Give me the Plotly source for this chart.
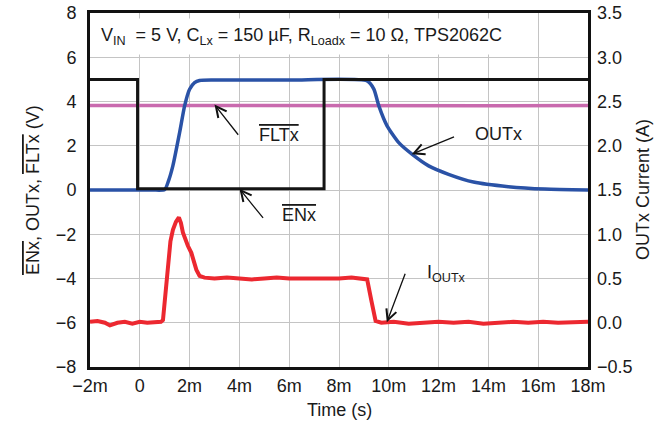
import plotly.graph_objects as go

# ---- data (time in ms) ----
en_t = [-2.0, -0.09, -0.09, 7.4, 7.4, 18.0]
en_v = [5.0, 5.0, 0.06, 0.06, 5.0, 5.0]

flt_t = [-2.0, 2.0, 6.0, 10.0, 14.0, 18.0]
flt_v = [3.82, 3.81, 3.83, 3.82, 3.81, 3.82]

out_t = [-2.0, 0.5, 1.0, 1.15, 1.33, 1.6, 1.8, 2.0, 2.2, 2.4, 3.0, 6.0, 9.13,
         9.4, 9.6, 9.93, 10.4, 10.93, 11.6, 12.4, 13.4, 14.8, 16.27, 18.0]
out_v = [0.0, 0.0, 0.02, 0.4, 1.1, 2.6, 3.8, 4.55, 4.85, 4.95, 4.97, 4.97, 4.93,
         4.56, 3.8, 2.9, 2.14, 1.62, 1.09, 0.71, 0.36, 0.15, 0.04, 0.0]

iout_t = [-2.0, -1.7, -1.4, -1.2, -0.9, -0.6, -0.3, 0.0, 0.3, 0.6, 0.85, 0.93,
          1.03, 1.13, 1.23, 1.33, 1.45, 1.57, 1.65, 1.73, 1.83, 1.93, 2.07,
          2.17, 2.27, 2.4, 2.6, 3.0, 3.5, 4.0, 4.5, 5.0, 5.5, 6.0, 6.5, 7.0,
          7.5, 8.0, 8.5, 9.0, 9.13, 9.3, 9.47, 9.7, 10.2, 10.8, 11.4, 12.0,
          12.6, 13.2, 13.8, 14.4, 15.0, 15.6, 16.2, 16.8, 17.4, 18.0]
iout_a = [0.01, 0.02, 0.0, -0.03, 0.0, 0.01, -0.01, 0.01, 0.0, 0.01, 0.01, 0.03,
          0.35, 0.72, 0.92, 1.05, 1.14, 1.19, 1.13, 1.02, 0.93, 0.87, 0.79,
          0.70, 0.60, 0.53, 0.51, 0.50, 0.51, 0.50, 0.49, 0.50, 0.51, 0.50, 0.50,
          0.49, 0.50, 0.50, 0.51, 0.50, 0.49, 0.25, 0.02, 0.0, 0.01, -0.01, 0.0,
          0.01, 0.0, 0.01, -0.01, 0.0, 0.01, 0.0, 0.01, 0.0, 0.01, 0.01]

x_ticks = [-2, 0, 2, 4, 6, 8, 10, 12, 14, 16, 18]
x_text = ["\u22122m", "0", "2m", "4m", "6m", "8m", "10m", "12m", "14m", "16m", "18m"]
y_ticks = [-8, -6, -4, -2, 0, 2, 4, 6, 8]
y_text = ["\u22128", "\u22126", "\u22124", "\u22122", "0", "2", "4", "6", "8"]
y2_ticks = [-0.5, 0.0, 0.5, 1.0, 1.5, 2.0, 2.5, 3.0, 3.5]
y2_text = ["\u22120.5", "0.0", "0.5", "1.0", "1.5", "2.0", "2.5", "3.0", "3.5"]

FONT = "Liberation Sans, Arial, sans-serif"
FS = 18
OL = '<span style="text-decoration:overline">%s</span>'
TXT = dict(family=FONT, size=FS, color="#1a1a1a")

fig = go.Figure()
fig.add_trace(go.Scatter(x=flt_t, y=flt_v, mode="lines",
                         line=dict(color="#c96aae", width=3.5), name="FLTx"))
fig.add_trace(go.Scatter(x=out_t, y=out_v, mode="lines",
                         line=dict(color="#2a52a6", width=3.5, shape="spline", smoothing=0.6),
                         name="OUTx"))
fig.add_trace(go.Scatter(x=en_t, y=en_v, mode="lines",
                         line=dict(color="#151515", width=3), name="ENx"))
fig.add_trace(go.Scatter(x=iout_t, y=iout_a, mode="lines", yaxis="y2",
                         line=dict(color="#ec2830", width=4), name="IOUTx"))

grid = "#c4c4c4"
fig.update_layout(
    width=661, height=421,
    margin=dict(l=90, r=73, t=13, b=54, autoexpand=False),
    paper_bgcolor="white", plot_bgcolor="white",
    showlegend=False,
    font=TXT,
    xaxis=dict(range=[-2, 18], tickvals=x_ticks, ticktext=x_text, automargin=False,
               showgrid=True, gridcolor=grid, gridwidth=1, zeroline=False,
               showline=True, linecolor="#111", linewidth=3, mirror=True,
               ticks="", ticklabelstandoff=0, ticklabeloverflow="allow"),
    yaxis=dict(range=[-8, 8], tickvals=y_ticks, ticktext=y_text, automargin=False,
               showgrid=True, gridcolor=grid, gridwidth=1, zeroline=False,
               showline=True, linecolor="#111", linewidth=3, mirror=True,
               ticks="", ticklabelstandoff=7, ticklabeloverflow="allow"),
    yaxis2=dict(range=[-0.5, 3.5], tickvals=y2_ticks, ticktext=y2_text, automargin=False,
                overlaying="y", side="right", showgrid=False, zeroline=False,
                showline=False, ticks="", ticklabelstandoff=8, ticklabeloverflow="allow"),
)

# axis titles
fig.add_annotation(xref="paper", yref="paper", x=0, y=0.5, xshift=-57, textangle=-90,
                   xanchor="center", yanchor="middle", showarrow=False, font=TXT,
                   text=OL % "ENx" + ", OUTx, " + OL % "FLTx" + " (V)")
fig.add_annotation(xref="paper", yref="paper", x=1, y=0.5, xshift=55, textangle=-90,
                   xanchor="center", yanchor="middle", showarrow=False, font=TXT,
                   text="OUTx Current (A)")
fig.add_annotation(xref="paper", yref="paper", x=0.5, y=0, yshift=-43,
                   xanchor="center", yanchor="middle", showarrow=False,
                   font=TXT, text="Time (s)")

# title box
fig.add_annotation(xref="paper", yref="paper", x=0.008, y=0.987, xanchor="left", yanchor="top",
                   text="V<sub>IN</sub>  = 5 V, C<sub>Lx</sub> = 150 \u00b5F, R<sub>Loadx</sub> = 10 \u03a9, TPS2062C",
                   showarrow=False, bgcolor="white", borderpad=6, font=TXT)

# arrows
arrows = [
    dict(x=3.0, y=3.86, ax=4.0, ay=2.43, yref="y", ayref="y"),
    dict(x=4.0, y=0.06, ax=5.0, ay=-1.33, yref="y", ayref="y"),
    dict(x=10.92, y=1.62, ax=12.68, ay=2.43, yref="y", ayref="y"),
    dict(x=9.92, y=0.005, ax=10.68, ay=0.57, yref="y2", ayref="y2"),
]
for a in arrows:
    fig.add_annotation(x=a["x"], y=a["y"], ax=a["ax"], ay=a["ay"], xref="x", axref="x",
                       yref=a["yref"], ayref=a["ayref"], text="", showarrow=True,
                       arrowhead=5, arrowsize=1.6, arrowwidth=1.3, arrowcolor="#111",
                       standoff=0, startstandoff=0)

labels = [
    dict(x=5.6, y=2.5, text=OL % "FLTx", yref="y", xanchor="center"),
    dict(x=6.4, y=-1.15, text=OL % "ENx", yref="y", xanchor="center"),
    dict(x=14.4, y=2.52, text="OUTx", yref="y", xanchor="center"),
    dict(x=11.45, y=0.555, text="I<sub>OUTx</sub>", yref="y2", xanchor="left"),
]
for l in labels:
    fig.add_annotation(x=l["x"], y=l["y"], xref="x", yref=l["yref"], text=l["text"],
                       showarrow=False, xanchor=l["xanchor"], font=TXT)

fig.write_html("out.html", config={"displayModeBar": False},
               post_script="document.body.style.margin='0';")
